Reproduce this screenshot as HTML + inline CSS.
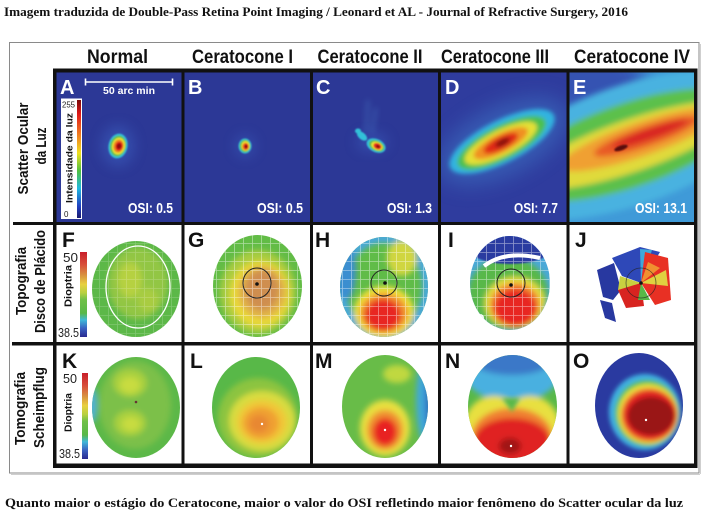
<!DOCTYPE html>
<html><head><meta charset="utf-8"><style>html,body{margin:0;padding:0;background:#fff;}svg{display:block}</style></head>
<body>
<svg width="707" height="518" viewBox="0 0 707 518" xmlns="http://www.w3.org/2000/svg">
<defs>
 <filter id="b1" x="-50%" y="-50%" width="200%" height="200%"><feGaussianBlur stdDeviation="0.9"/></filter>
 <filter id="b2" x="-50%" y="-50%" width="200%" height="200%"><feGaussianBlur stdDeviation="2"/></filter>
 <filter id="b3" x="-50%" y="-50%" width="200%" height="200%"><feGaussianBlur stdDeviation="3"/></filter>
 <filter id="b6" x="-50%" y="-50%" width="200%" height="200%"><feGaussianBlur stdDeviation="6"/></filter>
 <filter id="b9" x="-50%" y="-50%" width="200%" height="200%"><feGaussianBlur stdDeviation="10"/></filter>
 <linearGradient id="jet" x1="0" y1="0" x2="0" y2="1">
  <stop offset="0" stop-color="#7a0a0a"/><stop offset="0.12" stop-color="#e01a1a"/>
  <stop offset="0.3" stop-color="#f08020"/><stop offset="0.45" stop-color="#f0e020"/>
  <stop offset="0.6" stop-color="#50c040"/><stop offset="0.75" stop-color="#20b8e0"/>
  <stop offset="0.9" stop-color="#2040c0"/><stop offset="1" stop-color="#1a1a70"/>
 </linearGradient>
 <linearGradient id="diop" x1="0" y1="0" x2="0" y2="1">
  <stop offset="0" stop-color="#c81e2a"/><stop offset="0.15" stop-color="#d8503a"/>
  <stop offset="0.27" stop-color="#d89040"/><stop offset="0.38" stop-color="#e8d040"/>
  <stop offset="0.48" stop-color="#b8d040"/><stop offset="0.56" stop-color="#70c048"/>
  <stop offset="0.72" stop-color="#58b848"/><stop offset="0.8" stop-color="#40b8d8"/>
  <stop offset="0.9" stop-color="#3a60c0"/><stop offset="1" stop-color="#2a2a90"/>
 </linearGradient>
 <pattern id="grid" width="9" height="9" patternUnits="userSpaceOnUse">
  <path d="M0 0.5H9M0.5 0V9" stroke="#ffffff" stroke-width="0.8" opacity="0.6"/>
 </pattern>
 <clipPath id="cD"><rect x="441" y="72" width="126" height="151"/></clipPath>
 <clipPath id="cE"><rect x="569" y="72" width="126" height="151"/></clipPath>
 <clipPath id="cF"><ellipse cx="136" cy="289" rx="44" ry="48"/></clipPath>
 <clipPath id="cG"><ellipse cx="257.5" cy="286" rx="44.5" ry="51"/></clipPath>
 <clipPath id="cH"><ellipse cx="384" cy="287" rx="44" ry="50"/></clipPath>
 <clipPath id="cI"><ellipse cx="510" cy="283" rx="40" ry="47"/></clipPath>
 <clipPath id="cK"><ellipse cx="136" cy="407.5" rx="44" ry="50.5"/></clipPath>
 <clipPath id="cL"><ellipse cx="256" cy="407.5" rx="44" ry="50.5"/></clipPath>
 <clipPath id="cM"><ellipse cx="385" cy="406.5" rx="43" ry="51.5"/></clipPath>
 <clipPath id="cN"><ellipse cx="512.5" cy="406.5" rx="44.5" ry="51.5"/></clipPath>
 <clipPath id="cO"><ellipse cx="639" cy="405.5" rx="44" ry="52.5"/></clipPath>
</defs>

<rect width="707" height="518" fill="#fff"/>

<!-- title & caption -->
<text x="4" y="16" font-family="Liberation Serif, serif" font-weight="bold" font-size="12.5" textLength="624" lengthAdjust="spacingAndGlyphs" fill="#111">Imagem traduzida de Double-Pass Retina Point Imaging / Leonard et AL - Journal of Refractive Surgery, 2016</text>
<text x="5" y="507" font-family="Liberation Serif, serif" font-weight="bold" font-size="13" textLength="678" lengthAdjust="spacingAndGlyphs" fill="#111">Quanto maior o estágio do Ceratocone, maior o valor do OSI refletindo maior fenômeno do Scatter ocular da luz</text>

<!-- outer box -->
<rect x="9.5" y="42.5" width="689.5" height="430.5" fill="none" stroke="#8a8a8a" stroke-width="1"/>
<line x1="700.5" y1="44" x2="700.5" y2="474" stroke="#cfcfcf" stroke-width="1"/>
<line x1="11" y1="474.5" x2="700" y2="474.5" stroke="#cfcfcf" stroke-width="1"/>

<!-- headers -->
<g font-family="Liberation Sans, sans-serif" font-weight="bold" font-size="19" fill="#111" text-anchor="middle">
 <text x="117.5" y="63" textLength="61" lengthAdjust="spacingAndGlyphs">Normal</text>
 <text x="242.5" y="63" textLength="101" lengthAdjust="spacingAndGlyphs">Ceratocone I</text>
 <text x="370" y="63" textLength="105" lengthAdjust="spacingAndGlyphs">Ceratocone II</text>
 <text x="495" y="63" textLength="108" lengthAdjust="spacingAndGlyphs">Ceratocone III</text>
 <text x="632" y="63" textLength="116" lengthAdjust="spacingAndGlyphs">Ceratocone IV</text>
</g>

<!-- row labels -->
<g font-family="Liberation Sans, sans-serif" font-weight="bold" font-size="15" fill="#111" text-anchor="middle">
 <text transform="translate(28 148.5) rotate(-90)" textLength="92" lengthAdjust="spacingAndGlyphs">Scatter Ocular</text>
 <text transform="translate(46 146) rotate(-90)" textLength="37" lengthAdjust="spacingAndGlyphs">da Luz</text>
 <text transform="translate(26 281) rotate(-90)" textLength="68" lengthAdjust="spacingAndGlyphs">Topografia</text>
 <text transform="translate(45 281.5) rotate(-90)" textLength="103" lengthAdjust="spacingAndGlyphs">Disco de Plácido</text>
 <text transform="translate(25 408.5) rotate(-90)" textLength="73" lengthAdjust="spacingAndGlyphs">Tomografia</text>
 <text transform="translate(44 407.5) rotate(-90)" textLength="81" lengthAdjust="spacingAndGlyphs">Scheimpflug</text>
</g>

<!-- ROW 1 backgrounds -->
<rect x="55" y="71" width="640" height="153" fill="#2c3896"/>

<!-- A blob -->
<ellipse cx="118" cy="146" rx="17" ry="21" fill="#3a5cbc" opacity="0.55" filter="url(#b6)"/>
<g filter="url(#b1)" transform="rotate(12 118 146)">
 <ellipse cx="118" cy="146" rx="9.5" ry="12.5" fill="#30c0d8"/>
 <ellipse cx="118" cy="146" rx="8" ry="10.5" fill="#60c050"/>
 <ellipse cx="118.5" cy="146" rx="6.5" ry="8.5" fill="#e8e030"/>
 <ellipse cx="118.5" cy="146" rx="5" ry="6.5" fill="#f08020"/>
 <ellipse cx="119" cy="146" rx="3.5" ry="4.5" fill="#d81818"/>
 <ellipse cx="119" cy="146" rx="2" ry="2.5" fill="#8a1010"/>
</g>
<!-- B blob -->
<ellipse cx="245" cy="146" rx="11" ry="12" fill="#3a5cbc" opacity="0.45" filter="url(#b6)"/>
<g filter="url(#b1)">
 <ellipse cx="245" cy="146" rx="6.5" ry="7.5" fill="#30c0d8"/>
 <ellipse cx="245" cy="146" rx="5.3" ry="6.2" fill="#60c050"/>
 <ellipse cx="245.5" cy="146" rx="4.2" ry="5" fill="#e8e030"/>
 <ellipse cx="245.5" cy="146.5" rx="3.2" ry="3.8" fill="#f08020"/>
 <ellipse cx="246" cy="146.5" rx="2.2" ry="2.7" fill="#d81818"/>
 <ellipse cx="246" cy="146.5" rx="1.2" ry="1.5" fill="#8a1010"/>
</g>
<!-- C blob -->
<g filter="url(#b3)" opacity="0.3">
 <path d="M366 132 L368 100 M372 134 L376 108" stroke="#5aa0e0" stroke-width="3"/>
</g>
<ellipse cx="372" cy="142" rx="16" ry="10" fill="#3a5cbc" opacity="0.5" filter="url(#b6)"/>
<g filter="url(#b1)">
 <ellipse cx="362" cy="136" rx="6" ry="3.4" fill="#30c0d8" transform="rotate(40 362 136)"/>
 <ellipse cx="358" cy="131" rx="3" ry="2.5" fill="#30c0d8"/>
 <g transform="rotate(25 377 146)">
  <ellipse cx="376" cy="146" rx="10" ry="6.5" fill="#30c0d8"/>
  <ellipse cx="376.5" cy="146" rx="8" ry="5" fill="#60c050"/>
  <ellipse cx="377" cy="146" rx="6" ry="4" fill="#e8e030"/>
  <ellipse cx="377.5" cy="146" rx="4.2" ry="3" fill="#e83020"/>
  <ellipse cx="378" cy="146" rx="2" ry="1.5" fill="#8a1010"/>
 </g>
</g>
<!-- D -->
<g clip-path="url(#cD)">
 <rect x="441" y="72" width="126" height="151" fill="#2f3c9e"/>
 <g transform="rotate(-27 503 141)">
  <ellipse cx="503" cy="141" rx="70" ry="34" fill="#3c74c4" opacity="0.55" filter="url(#b9)"/>
  <g filter="url(#b2)">
   <ellipse cx="502" cy="141" rx="58" ry="21" fill="#32b4e0"/>
   <ellipse cx="501" cy="142" rx="49" ry="17" fill="#4cc050"/>
   <ellipse cx="500" cy="142" rx="40" ry="13" fill="#e4e034"/>
   <ellipse cx="500" cy="142" rx="30" ry="9.5" fill="#f09024"/>
   <ellipse cx="500" cy="142" rx="19" ry="6.5" fill="#e02a18"/>
   <ellipse cx="502" cy="142" rx="8" ry="3" fill="#7a0a0a"/>
  </g>
 </g>
</g>
<!-- E -->
<g clip-path="url(#cE)">
 <rect x="569" y="72" width="126" height="151" fill="#3f9ad8"/>
 <ellipse cx="585" cy="82" rx="60" ry="38" fill="#3552b2" filter="url(#b9)"/>
 <g transform="rotate(-19 630 145)">
  <g filter="url(#b3)">
   <ellipse cx="630" cy="145" rx="150" ry="60" fill="#48b2e0"/>
   <ellipse cx="630" cy="145" rx="125" ry="42" fill="#5cc04c"/>
   <ellipse cx="632" cy="146" rx="112" ry="26" fill="#e0da3a"/>
   <ellipse cx="642" cy="143" rx="85" ry="17" fill="#f0a030"/>
   <ellipse cx="648" cy="142" rx="55" ry="10" fill="#e85a28"/>
   <ellipse cx="652" cy="141" rx="40" ry="5" fill="#d82020"/>
  </g>
 </g>
 <ellipse cx="621" cy="148" rx="7" ry="2.5" fill="#5a0a0a" transform="rotate(-19 621 148)" filter="url(#b1)"/>
</g>

<!-- A inset: scale bar, colorbar -->
<g stroke="#fff" stroke-width="1.6">
 <line x1="85" y1="82" x2="173" y2="82"/>
 <line x1="85.5" y1="78.5" x2="85.5" y2="85.5"/>
 <line x1="172.5" y1="78.5" x2="172.5" y2="85.5"/>
</g>
<text x="103" y="94" font-family="Liberation Sans, sans-serif" font-weight="bold" font-size="10" fill="#fff" textLength="52" lengthAdjust="spacingAndGlyphs">50 arc min</text>
<rect x="61" y="98.5" width="21" height="120.5" fill="#fff"/>
<rect x="77" y="100" width="4" height="118" fill="url(#jet)"/>
<text x="62" y="107.5" font-family="Liberation Sans, sans-serif" font-size="8" fill="#222" textLength="13" lengthAdjust="spacingAndGlyphs">255</text>
<text x="64" y="217" font-family="Liberation Sans, sans-serif" font-size="8" fill="#222">0</text>
<text transform="translate(72.5 158) rotate(-90)" text-anchor="middle" font-family="Liberation Sans, sans-serif" font-weight="bold" font-size="9.5" fill="#111" textLength="90" lengthAdjust="spacingAndGlyphs">Intensidade da luz</text>

<!-- OSI labels -->
<g font-family="Liberation Sans, sans-serif" font-weight="bold" font-size="15" fill="#fff">
 <text x="128" y="213" textLength="45" lengthAdjust="spacingAndGlyphs">OSI: 0.5</text>
 <text x="257" y="213" textLength="46" lengthAdjust="spacingAndGlyphs">OSI: 0.5</text>
 <text x="387" y="213" textLength="45" lengthAdjust="spacingAndGlyphs">OSI: 1.3</text>
 <text x="514" y="213" textLength="44" lengthAdjust="spacingAndGlyphs">OSI: 7.7</text>
 <text x="635" y="213" textLength="52" lengthAdjust="spacingAndGlyphs">OSI: 13.1</text>
</g>

<!-- ROW 2 -->
<rect x="80" y="252" width="7" height="85" fill="url(#diop)"/>
<g font-family="Liberation Sans, sans-serif" font-size="13" fill="#222">
 <text x="63" y="262" textLength="15" lengthAdjust="spacingAndGlyphs">50</text>
 <text x="58" y="337" textLength="21" lengthAdjust="spacingAndGlyphs">38.5</text>
 <text x="63" y="383" textLength="14" lengthAdjust="spacingAndGlyphs">50</text>
 <text x="59" y="458" textLength="21" lengthAdjust="spacingAndGlyphs">38.5</text>
</g>
<g font-family="Liberation Sans, sans-serif" font-weight="bold" font-size="10" fill="#111" text-anchor="middle">
 <text transform="translate(71.5 286) rotate(-90)" textLength="42" lengthAdjust="spacingAndGlyphs">Dioptria</text>
 <text transform="translate(71.5 412.5) rotate(-90)" textLength="39" lengthAdjust="spacingAndGlyphs">Dioptria</text>
</g>
<!-- F -->
<g clip-path="url(#cF)">
 <rect x="90" y="238" width="92" height="102" fill="#5cb848"/>
 <g filter="url(#b3)">
  <ellipse cx="138" cy="283" rx="30" ry="36" fill="#98c842" opacity="0.9"/>
  <ellipse cx="130" cy="280" rx="12" ry="18" fill="#c4d63e" opacity="0.7"/>
  <ellipse cx="148" cy="300" rx="10" ry="12" fill="#b8d040" opacity="0.6"/>
 </g>
 <ellipse cx="136" cy="289" rx="44" ry="48" fill="url(#grid)" opacity="0.35"/>
</g>
<ellipse cx="138" cy="287" rx="32" ry="41" fill="none" stroke="#fff" stroke-width="1.3"/>

<!-- G -->
<g clip-path="url(#cG)">
 <rect x="210" y="233" width="96" height="106" fill="#62bc46"/>
 <g filter="url(#b3)">
  <ellipse cx="258" cy="292" rx="38" ry="42" fill="#a8cc40"/>
  <ellipse cx="260" cy="294" rx="30" ry="33" fill="#e8d838"/>
  <ellipse cx="262" cy="292" rx="24" ry="26" fill="#e0b048"/>
  <ellipse cx="262" cy="290" rx="17" ry="20" fill="#cf8e50"/>
 </g>
 <ellipse cx="257.5" cy="286" rx="44.5" ry="51" fill="url(#grid)" opacity="0.8"/>
</g>
<ellipse cx="257" cy="283" rx="14" ry="15" fill="none" stroke="#222" stroke-width="1"/>
<circle cx="257" cy="284" r="1.8" fill="#111"/>

<!-- H -->
<g clip-path="url(#cH)">
 <rect x="338" y="235" width="92" height="104" fill="#60bc48"/>
 <g filter="url(#b3)">
  <ellipse cx="384" cy="287" rx="44" ry="50" fill="none" stroke="#48a8d8" stroke-width="12"/>
  <ellipse cx="346" cy="270" rx="10" ry="30" fill="#3a8ed0"/>
  <ellipse cx="402" cy="258" rx="15" ry="18" fill="#d0d640"/>
  <ellipse cx="384" cy="312" rx="30" ry="26" fill="#f0e038"/>
  <ellipse cx="384" cy="313" rx="24" ry="20" fill="#f09030"/>
  <ellipse cx="383" cy="315" rx="18" ry="16" fill="#e82820"/>
 </g>
 <ellipse cx="384" cy="287" rx="44" ry="50" fill="url(#grid)" opacity="0.8"/>
</g>
<circle cx="384" cy="283" r="13" fill="none" stroke="#222" stroke-width="1"/>
<circle cx="385" cy="283" r="1.8" fill="#111"/>

<!-- I -->
<g clip-path="url(#cI)">
 <rect x="468" y="234" width="84" height="98" fill="#4aa8d8"/>
 <g filter="url(#b3)">
  <ellipse cx="508" cy="293" rx="40" ry="36" fill="#58b848"/>
  <ellipse cx="515" cy="303" rx="30" ry="26" fill="#e8e040"/>
  <ellipse cx="515" cy="305" rx="25" ry="22" fill="#f08030"/>
  <ellipse cx="515" cy="308" rx="21" ry="19" fill="#e82820"/>
 </g>
 <ellipse cx="510" cy="246" rx="44" ry="18" fill="#2a3aa0" filter="url(#b1)"/>
 <ellipse cx="510" cy="283" rx="40" ry="47" fill="url(#grid)" opacity="0.8"/>
 <path d="M484 266 Q505 250 540 258" fill="none" stroke="#fff" stroke-width="4"/>
 <circle cx="480" cy="318" r="4" fill="#fff"/>
</g>
<circle cx="511" cy="283" r="14" fill="none" stroke="#222" stroke-width="1"/>
<circle cx="511" cy="285" r="1.8" fill="#111"/>

<!-- J -->
<g>
 <path d="M597 270 L614 263 L621 290 L613 300 L603 297 Z" fill="#2838a0"/>
 <path d="M600 300 L612 303 L616 322 L605 318 Z" fill="#2838a0"/>
 <path d="M612 258 L640 247 L660 252 L648 272 L641 283 L622 276 Z" fill="#2e48b8"/>
 <path d="M640 249 L652 250 L646 270 L641 283 Z" fill="#40a8d8"/>
 <path d="M620 276 L641 283 L634 290 L618 290 Z" fill="#c8d040"/>
 <path d="M645 252 L668 258 L671 300 L655 305 L641 283 Z" fill="#e83024"/>
 <path d="M641 283 L648 262 L660 268 Z" fill="#f09030"/>
 <path d="M641 283 L666 270 L668 286 Z" fill="#e0d040"/>
 <path d="M618 290 L641 283 L644 306 L626 308 Z" fill="#d82420"/>
 <path d="M641 283 L650 300 L638 300 Z" fill="#58b848"/>
 <circle cx="641" cy="283" r="15" fill="none" stroke="#222" stroke-width="0.8" opacity="0.7"/>
 <circle cx="641" cy="283" r="1.8" fill="#111"/>
</g>

<!-- ROW 3 -->
<rect x="82" y="373" width="6" height="86" fill="url(#diop)"/>
<!-- K -->
<g clip-path="url(#cK)">
 <rect x="90" y="355" width="92" height="106" fill="#5cb848"/>
 <g filter="url(#b3)">
  <ellipse cx="92" cy="405" rx="5" ry="18" fill="#50b0d8"/>
  <ellipse cx="135" cy="405" rx="36" ry="44" fill="#7cc048"/>
  <ellipse cx="130" cy="383" rx="17" ry="14" fill="#a8d040"/>
  <ellipse cx="130" cy="423" rx="16" ry="13" fill="#a8d040"/>
  <ellipse cx="130" cy="385" rx="10" ry="8" fill="#c8dc40"/>
  <ellipse cx="131" cy="424" rx="9" ry="7" fill="#c8dc40"/>
 </g>
</g>
<circle cx="136" cy="402" r="1.3" fill="#633"/>
<!-- L -->
<g clip-path="url(#cL)">
 <rect x="210" y="355" width="92" height="106" fill="#58b848"/>
 <g filter="url(#b3)">
  <ellipse cx="258" cy="418" rx="40" ry="40" fill="#8cc440"/>
  <ellipse cx="262" cy="421" rx="33" ry="30" fill="#d8dc40"/>
  <ellipse cx="262" cy="422" rx="25" ry="22" fill="#f0c838"/>
  <ellipse cx="261" cy="423" rx="18" ry="16" fill="#f0a030"/>
  <ellipse cx="259" cy="424" rx="10" ry="9" fill="#e88830"/>
 </g>
</g>
<circle cx="262" cy="424" r="1.2" fill="#fff"/>
<!-- M -->
<g clip-path="url(#cM)">
 <rect x="340" y="353" width="92" height="108" fill="#68bc48"/>
 <g filter="url(#b3)">
  <ellipse cx="397" cy="374" rx="14" ry="9" fill="#c0d840"/>
  <ellipse cx="430" cy="400" rx="14" ry="50" fill="#40a8d8"/>
  <ellipse cx="433" cy="400" rx="8" ry="45" fill="#3070c0"/>
  <ellipse cx="385" cy="428" rx="25" ry="28" fill="#e8e040"/>
  <ellipse cx="385" cy="430" rx="18" ry="20" fill="#f09030"/>
  <ellipse cx="385" cy="432" rx="12" ry="14" fill="#e82020"/>
 </g>
</g>
<circle cx="385" cy="430" r="1.2" fill="#fff"/>
<!-- N -->
<g clip-path="url(#cN)">
 <rect x="466" y="353" width="94" height="108" fill="#58b848"/>
 <g filter="url(#b3)">
  <ellipse cx="512" cy="372" rx="48" ry="30" fill="#48b0e0"/>
  <ellipse cx="512" cy="360" rx="40" ry="15" fill="#3a78c8"/>
  <ellipse cx="494" cy="428" rx="30" ry="32" fill="#e8e040"/>
  <ellipse cx="530" cy="428" rx="30" ry="32" fill="#e8e040"/>
  <ellipse cx="512" cy="436" rx="40" ry="28" fill="#f08030"/>
  <ellipse cx="512" cy="441" rx="38" ry="23" fill="#e02020"/>
  <ellipse cx="510" cy="446" rx="11" ry="8" fill="#a01818"/>
 </g>
 <path d="M502 398 L512 412 L520 398 Z" fill="#58b848" filter="url(#b2)"/>
</g>
<circle cx="511" cy="446" r="1.2" fill="#fff"/>
<!-- O -->
<g clip-path="url(#cO)">
 <rect x="593" y="351" width="92" height="110" fill="#2a3aa0"/>
 <g filter="url(#b2)">
  <ellipse cx="645" cy="412" rx="36" ry="38" fill="#40b0e0"/>
  <ellipse cx="647" cy="413" rx="32" ry="33" fill="#58c050"/>
  <ellipse cx="648" cy="414" rx="30" ry="30" fill="#e8e040"/>
  <ellipse cx="649" cy="415" rx="28" ry="27" fill="#f08030"/>
  <ellipse cx="650" cy="415" rx="26" ry="24" fill="#e02020"/>
  <ellipse cx="651" cy="416" rx="23" ry="19" fill="#9a1818"/>
 </g>
</g>
<circle cx="646" cy="420" r="1.2" fill="#fff"/>

<!-- GRID LINES -->
<g fill="#111">
 <rect x="53" y="68.5" width="644.5" height="4"/>
 <rect x="13" y="222" width="684.5" height="3"/>
 <rect x="12" y="342" width="685.5" height="3.5"/>
 <rect x="53" y="463.5" width="644.5" height="4.5"/>
 <rect x="53" y="68.5" width="3.5" height="399.5"/>
 <rect x="181.5" y="68.5" width="3" height="399.5"/>
 <rect x="310" y="68.5" width="3" height="399.5"/>
 <rect x="438" y="68.5" width="3" height="399.5"/>
 <rect x="566.5" y="68.5" width="3" height="399.5"/>
 <rect x="694" y="68.5" width="3.5" height="399.5"/>
</g>

<!-- panel letters -->
<g font-family="Liberation Sans, sans-serif" font-weight="bold" font-size="20" fill="#fff">
 <text x="60" y="94">A</text><text x="188" y="94">B</text><text x="316" y="94">C</text>
 <text x="445" y="94">D</text><text x="573" y="94">E</text>
</g>
<g font-family="Liberation Sans, sans-serif" font-weight="bold" font-size="21" fill="#111">
 <text x="62" y="247">F</text><text x="188" y="247">G</text><text x="315" y="247">H</text>
 <text x="448" y="247">I</text><text x="575" y="247">J</text>
 <text x="62" y="368">K</text><text x="190" y="368">L</text><text x="315" y="368">M</text>
 <text x="445" y="368">N</text><text x="573" y="368">O</text>
</g>
</svg>
</body></html>
